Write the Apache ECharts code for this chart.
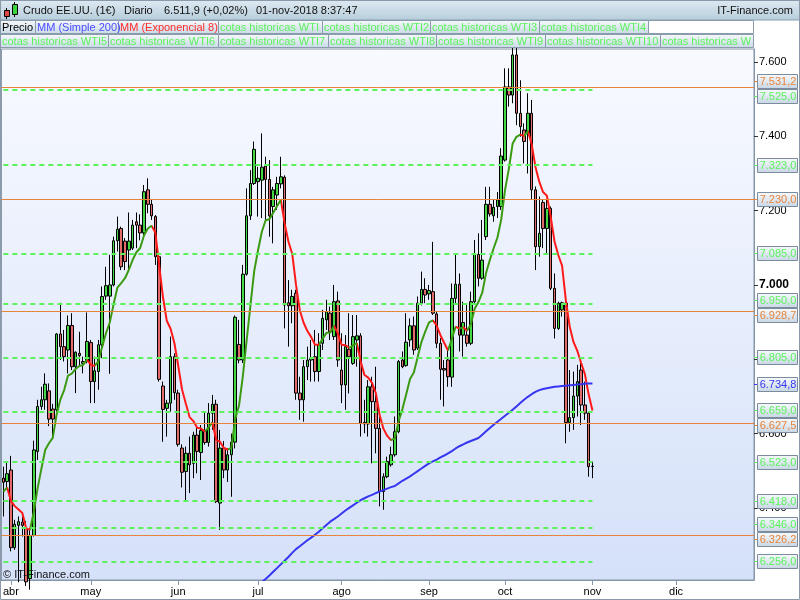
<!DOCTYPE html>
<html><head><meta charset="utf-8">
<script src="https://cdn.jsdelivr.net/npm/echarts@6/dist/echarts.min.js"></script>
<style>html,body{margin:0;padding:0;background:#fff}#c{width:800px;height:600px}</style>
</head><body><div id="c"></div>
<script>
// ---------------- DATA ----------------
const opens = [6480,6471,6502,6293,6353,6362,6345,6210,6326,6552,6673,6691,6715,6666,6664,6868,6834,6825,6891,6780,
6816,6789,6794,6845,6740,6767,6839,6970,6970,7000,7119,7152,7118,7094,7099,7170,7161,7140,7256,7217,
7184,7076,6728,6668,6682,6807,6709,6561,6498,6547,6520,6596,6549,6608,6576,6655,6679,6413,6561,6502,
6543,6577,6840,6798,7029,7186,7273,7278,7282,7320,7284,7211,7242,7272,7290,6952,6944,6978,6709,6691,
6780,6798,6807,6767,6843,6906,6924,6861,6957,6771,6731,6827,6789,6852,6863,6630,6626,6726,6686,6614,
6444,6484,6516,6543,6605,6798,6783,6852,6890,6830,6951,6988,6976,6982,6922,6843,6775,6798,6752,6964,
7002,6865,6865,6843,6955,7082,7018,7130,7217,7186,7211,7211,7336,7533,7511,7619,7462,7417,7408,7462,
7256,7103,7222,7152,7206,6991,6883,6933,6951,6630,6643,6701,6771,6677,6655,6511];
const closes = [6469,6492,6293,6356,6363,6353,6201,6326,6556,6673,6691,6733,6639,6639,6868,6834,6807,6891,6780,6819,
6810,6794,6848,6740,6769,6839,6969,6998,7000,7119,7150,7049,7063,7118,7161,7161,7140,7251,7217,7186,
7076,6746,6665,6682,6807,6710,6571,6496,6547,6516,6596,6552,6608,6576,6655,6679,6417,6561,6502,6543,
6577,6913,6798,7029,7186,7273,7365,7287,7317,7284,7186,7256,7273,7291,6946,6944,6969,6709,6691,6780,
6798,6803,6767,6839,6910,6928,6874,6955,6798,6731,6834,6807,6861,6863,6628,6626,6726,6686,6614,6444,
6484,6525,6543,6605,6794,6780,6846,6890,6825,6951,6988,6973,6985,6924,6843,6773,6771,6753,6964,7002,
6865,6899,6843,6955,7082,7018,7067,7217,7191,7209,7229,7347,7533,7511,7619,7462,7426,7386,7462,7256,
7103,7139,7152,7206,6991,6883,6951,6952,6630,6643,6701,6740,6677,6655,6511,6512];
const lows = [6377,6449,6283,6287,6200,6323,6190,6180,6323,6529,6664,6664,6620,6590,6659,6798,6794,6762,6771,6709,
6780,6762,6789,6682,6682,6718,6803,6960,6761,6996,7090,7040,7040,7040,7094,7099,7120,7130,7193,7175,
7054,6740,6578,6592,6659,6691,6565,6455,6417,6440,6480,6493,6475,6570,6565,6610,6413,6341,6480,6470,
6430,6560,6789,6790,7025,7175,7269,7184,7180,7170,7130,7112,7202,7260,6883,6834,6897,6691,6637,6632,
6744,6740,6740,6740,6825,6879,6852,6852,6780,6682,6664,6708,6785,6780,6592,6601,6592,6520,6547,6404,
6395,6480,6511,6538,6601,6776,6780,6834,6812,6825,6945,6951,6960,6919,6830,6691,6673,6726,6726,6951,
6821,6807,6834,6838,6951,6996,7014,7121,7184,7170,7180,7202,7332,7480,7489,7430,7399,7327,7300,7229,
7040,7076,7099,7085,6986,6856,6879,6915,6574,6605,6610,6646,6623,6637,6484,6480];
const highs = [6511,6525,6540,6368,6377,6386,6365,6340,6581,6691,6726,6762,6735,6680,6870,6952,6879,6918,6924,6821,
6874,6807,6926,6852,6807,6852,6996,7049,7081,7130,7184,7157,7126,7195,7175,7195,7190,7269,7287,7229,
7188,7080,6740,6691,6861,6816,6718,6571,6565,6592,6605,6619,6623,6659,6682,6704,6691,6610,6580,6560,
6600,6918,6906,7054,7260,7309,7386,7318,7408,7345,7336,7264,7291,7345,7295,7013,6987,6987,6753,6798,
6834,6852,6879,6870,6933,6960,6942,7000,6982,6870,6865,6924,6919,6919,6870,6691,6744,6753,6780,6646,
6493,6538,6565,6646,6798,6821,6924,6910,6915,6969,7036,7018,7000,7116,6928,6857,6798,6825,7004,7083,
7031,6955,6951,6982,7121,7139,7175,7264,7264,7229,7250,7368,7583,7583,7646,7646,7551,7435,7516,7498,
7265,7238,7229,7229,7211,7031,6955,6955,6969,6771,6767,6785,6794,6740,6659,6525];
// MM (Simple 200): values, from the day it enters the plot (index 67) to the last day
const ma200FirstIndex = 67;
const ma200 = [6190,6200,6209,6218,6228,6238,6248,6258,6268,6279,6289,6297,6305,6313,6320,6328,6336,6345,6354,6363,
6370,6377,6385,6393,6400,6407,6414,6421,6426,6431,6435,6440,6444,6448,6452,6456,6459,6466,6473,6479,
6485,6492,6499,6506,6513,6520,6525,6530,6536,6541,6547,6553,6560,6566,6571,6576,6580,6584,6588,6597,
6606,6615,6624,6632,6640,6648,6656,6664,6673,6682,6691,6699,6706,6712,6717,6720,6722,6724,6726,6727,
6728,6729,6730,6731,6732,6733,6734,6735,6734.8];
const emaSeed = 6444;           // EMA 8 value on the first day
const emaPeriod = 8;
const greenLevels = [7525, 7323, 7085, 6950, 6805, 6659, 6523, 6418, 6346, 6256];
const orangeLevels = [7531.2, 7230, 6928.7, 6627.5, 6326.2];
const yTickValues = [6400, 6600, 6800, 7000, 7200, 7400, 7600];
const monthNames = ['ene','feb','mar','abr','may','jun','jul','ago','sep','oct','nov','dic'];
const headerTexts = ['Crudo EE.UU. (1€)', 'Diario', '6.511,9 (+0,02%)', '01-nov-2018 8:37:47'];
const siteName = 'IT-Finance.com';
const copyright = '© IT-Finance.com';
const legendRow1 = ['Precio','MM (Simple 200)','MM (Exponencial 8)','cotas historicas WTI','cotas historicas WTI2','cotas historicas WTI3','cotas historicas WTI4'];
const legendRow2 = ['cotas historicas WTI5','cotas historicas WTI6','cotas historicas WTI7','cotas historicas WTI8','cotas historicas WTI9','cotas historicas WTI10','cotas historicas W'];

// ---------------- categories: trading days (Mon-Fri) ----------------
const categories = [];
(function () {
  let t = Date.UTC(2018, 2, 29); const end = Date.UTC(2018, 11, 31);
  while (t <= end) { const d = new Date(t); const w = d.getUTCDay(); if (w !== 0 && w !== 6) categories.push(d.toISOString().slice(0, 10)); t += 86400000; }
})();
function isMonthStart(i) { return i > 0 && categories[i].slice(5, 7) !== categories[i - 1].slice(5, 7); }

// ---------------- styles ----------------
const FONT = '"Liberation Sans", Arial, sans-serif';
const C_GREEN_LVL = '#5cf25c', C_ORANGE = '#e8843a', C_BLUE = '#3636f0', C_RED = '#ff1a1a', C_EMA_GREEN = '#3a9a12';

const candleData = opens.map((o, i) => [o, closes[i], lows[i], highs[i]]);
const ema = [emaSeed];
for (let i = 1; i < closes.length; i++) ema.push(ema[i - 1] + (2 / (emaPeriod + 1)) * (closes[i] - ema[i - 1]));
const emaData = ema.map(v => +v.toFixed(1));
const maData = categories.map((c, i) => (i >= ma200FirstIndex && i - ma200FirstIndex < ma200.length) ? ma200[i - ma200FirstIndex] : null);

// colour pieces: red while the EMA falls, green while it rises
const pieces = [];
(function () {
  let runStart = 0, cur = null;
  for (let i = 1; i < ema.length; i++) {
    const c = ema[i] < ema[i - 1] ? C_RED : C_EMA_GREEN;
    if (cur === null) cur = c;
    else if (c !== cur) { pieces.push({ gte: runStart, lt: i - 1, color: cur }); runStart = i - 1; cur = c; }
  }
  pieces.push({ gte: runStart, lte: categories.length, color: cur });
})();

function fmtComma(v) { const s = v.toFixed(1); const p = s.split('.'); const ip = p[0]; return ip.slice(0, ip.length - 3) + '.' + ip.slice(-3) + ',' + p[1]; }
function fmtAxis(v) { const s = String(Math.round(v)); return s.slice(0, s.length - 3) + '.' + s.slice(-3); }

const lastIdx = closes.length - 1;
const markLineData = [];
orangeLevels.forEach(v => markLineData.push({ yAxis: v, lineStyle: { color: C_ORANGE, width: 1, type: 'solid' } }));
greenLevels.forEach(v => markLineData.push([{ coord: [0, v], lineStyle: { color: C_GREEN_LVL, width: 2, type: [5, 4] } }, { coord: [lastIdx, v] }]));

const chart = echarts.init(document.getElementById('c'), null, { renderer: 'canvas' });
const option = {
  animation: false,
  backgroundColor: '#ffffff',
  grid: {
    left: 1, right: 46, top: 49, bottom: 20, show: true, borderColor: '#8596a8', borderWidth: 1,
    backgroundColor: new echarts.graphic.LinearGradient(0, 0, 0, 1, [{ offset: 0, color: '#f8faff' }, { offset: 1, color: '#d5e1f9' }])
  },
  xAxis: {
    type: 'category', data: categories, boundaryGap: true,
    axisLine: { show: true, lineStyle: { color: '#8596a8' } },
    axisTick: { show: true, alignWithLabel: true, length: 5, interval: (i) => isMonthStart(i), lineStyle: { color: '#8596a8' } },
    axisLabel: { interval: (i) => isMonthStart(i), formatter: (v) => monthNames[+v.slice(5, 7) - 1], color: '#000', fontSize: 11, fontFamily: FONT, margin: 6 },
    splitLine: { show: false }
  },
  yAxis: {
    type: 'value', position: 'right', min: 6206, max: 7635, scale: true,
    axisLine: { show: true, lineStyle: { color: '#8596a8' } },
    axisTick: { show: true, length: 4, customValues: yTickValues, lineStyle: { color: '#333' } },
    axisLabel: {
      customValues: yTickValues, margin: 5, color: '#000', fontSize: 11, fontFamily: FONT,
      formatter: (v) => v === 7000 ? '{b|' + fmtAxis(v) + '}' : fmtAxis(v),
      rich: { b: { fontWeight: 'bold', fontSize: 12, fontFamily: FONT, color: '#000' } }
    },
    splitLine: { show: false }
  },
  visualMap: { type: 'piecewise', show: false, dimension: 0, seriesIndex: 1, pieces: pieces, outOfRange: { color: C_EMA_GREEN } },
  series: [
    {
      type: 'candlestick', name: 'Precio', data: candleData, barWidth: 3,
      itemStyle: { color: '#45d845', color0: '#e26b6b', borderColor: '#000', borderColor0: '#000', borderWidth: 1 },
      markLine: { silent: true, symbol: ['none', 'none'], label: { show: false }, data: markLineData, animation: false },
      z: 3
    },
    { type: 'line', name: 'MM (Exponencial 8)', data: emaData, symbol: 'none', lineStyle: { width: 2 }, z: 4 },
    { type: 'line', name: 'MM (Simple 200)', data: maData, symbol: 'none', lineStyle: { width: 2, color: C_BLUE }, itemStyle: { color: C_BLUE }, z: 4 }
  ]
};
chart.setOption(option);

// ---------------- graphics: header, legend boxes, value boxes ----------------
const g = [];
const boxGrad = (a, b) => ({ type: 'linear', x: 0, y: 0, x2: 0, y2: 1, colorStops: [{ offset: 0, color: a }, { offset: 1, color: b }] });
g.push({ type: 'rect', shape: { x: 0, y: 0, width: 800, height: 20 }, style: { fill: boxGrad('#dfeaf2', '#b6cddb'), stroke: '#8aa0b2', lineWidth: 1 }, z: 50 });
// icon
g.push({ type: 'line', shape: { x1: 6.5, y1: 8, x2: 6.5, y2: 19 }, style: { stroke: '#000', lineWidth: 1 }, z: 51 });
g.push({ type: 'rect', shape: { x: 4.5, y: 10.5, width: 5, height: 6 }, style: { fill: '#e04848', stroke: '#000', lineWidth: 1 }, z: 52 });
g.push({ type: 'line', shape: { x1: 14.5, y1: 2, x2: 14.5, y2: 17 }, style: { stroke: '#000', lineWidth: 1 }, z: 51 });
g.push({ type: 'rect', shape: { x: 12.5, y: 4.5, width: 5, height: 10 }, style: { fill: '#3cd23c', stroke: '#000', lineWidth: 1 }, z: 52 });
const headerX = [23, 124, 164, 256];
headerTexts.forEach((t, i) => g.push({ type: 'text', x: headerX[i], y: 11, style: { text: t, fill: '#111', font: '11px ' + FONT, textVerticalAlign: 'middle' }, z: 53 }));
g.push({ type: 'text', x: 793, y: 11, style: { text: siteName, fill: '#111', font: '11px ' + FONT, textAlign: 'right', textVerticalAlign: 'middle' }, z: 53 });

const row1Edges = [0, 35, 118, 218, 322, 430, 539, 648];
const row2Edges = [0, 108, 218, 328, 436, 545, 660, 753];
const legendColors1 = ['#000', '#4a4aff', '#ff2a2a', C_GREEN_LVL, C_GREEN_LVL, C_GREEN_LVL, C_GREEN_LVL];
function legendRow(labels, edges, colors, y0, h) {
  labels.forEach((t, i) => {
    g.push({ type: 'rect', shape: { x: edges[i] + 0.5, y: y0 + 0.5, width: edges[i + 1] - edges[i], height: h }, style: { fill: boxGrad('#f6f9fb', '#c9dae6'), stroke: '#8a9cac', lineWidth: 1 }, z: 50 });
    g.push({ type: 'text', x: edges[i] + 2, y: y0 + h / 2 + 1, style: { text: t, fill: colors[i], font: '11px ' + FONT, textVerticalAlign: 'middle' }, z: 53 });
  });
}
legendRow(legendRow1, row1Edges, legendColors1, 20, 13);
g.push({ type: 'rect', shape: { x: 648.5, y: 20.5, width: 105, height: 13 }, style: { fill: '#fff', stroke: '#8a9cac', lineWidth: 1 }, z: 50 });
legendRow(legendRow2, row2Edges, legendRow2.map(() => C_GREEN_LVL), 34, 13);

g.push({ type: 'text', x: 3, y: 575, style: { text: copyright, fill: '#111', font: '11px ' + FONT, textVerticalAlign: 'middle' }, z: 53 });

// value boxes on the right axis, placed through the axis scale
const boxes = [];
greenLevels.forEach(v => boxes.push({ v, c: C_GREEN_LVL }));
orangeLevels.forEach(v => boxes.push({ v, c: C_ORANGE }));
boxes.push({ v: ma200[ma200.length - 1], c: C_BLUE });
boxes.forEach(b => { b.y = chart.convertToPixel({ yAxisIndex: 0 }, b.v); b.yc = b.y; });
boxes.sort((a, b) => a.y - b.y);
const BH = 14;
for (let i = 1; i < boxes.length; i++) {
  if (boxes[i].yc - boxes[i - 1].yc < BH + 0.5) {
    const mid = (boxes[i].yc + boxes[i - 1].yc) / 2;
    boxes[i - 1].yc = mid - (BH + 0.5) / 2; boxes[i].yc = mid + (BH + 0.5) / 2;
  }
}
boxes.forEach(b => {
  const top = Math.round(b.yc - BH / 2) + 0.5;
  g.push({ type: 'line', shape: { x1: 754, y1: Math.round(b.yc) + 0.5, x2: 758, y2: Math.round(b.yc) + 0.5 }, style: { stroke: b.c, lineWidth: 1 }, z: 60 });
  g.push({ type: 'rect', shape: { x: 757.5, y: top, width: 40, height: BH }, style: { fill: boxGrad('#f8fbfd', '#c7d6e5'), stroke: '#7c8c9c', lineWidth: 1 }, z: 60 });
  g.push({ type: 'text', x: 778, y: top + BH / 2 + 0.5, style: { text: fmtComma(b.v), fill: b.c, font: '11px ' + FONT, textAlign: 'center', textVerticalAlign: 'middle' }, z: 61 });
});
g.push({ type: 'rect', shape: { x: 0.5, y: 0.5, width: 799, height: 599 }, style: { fill: 'none', stroke: '#8a9aab', lineWidth: 1 }, z: 70, silent: true });
chart.setOption({ graphic: g });
</script>
</body></html>
